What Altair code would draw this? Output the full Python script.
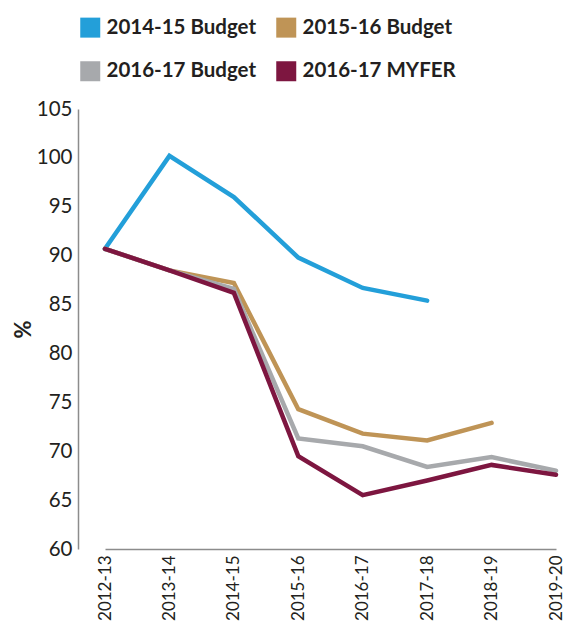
import altair as alt
import pandas as pd

years = ["2012-13", "2013-14", "2014-15", "2015-16", "2016-17", "2017-18", "2018-19", "2019-20"]
series_names = ["2014-15 Budget", "2015-16 Budget", "2016-17 Budget", "2016-17 MYFER"]
colors = ["#239FD9", "#BF9456", "#A7A9AC", "#7D1640"]
# legend fills column by column: put items in that order
legend_order = [0, 2, 1, 3]

b1415 = [90.7, 100.2, 96.0, 89.8, 86.7, 85.4, None, None]
b1516 = [90.7, 88.5, 87.2, 74.3, 71.8, 71.1, 72.9, None]
b1617 = [90.7, 88.5, 86.6, 71.3, 70.5, 68.4, 69.4, 68.0]
myfer = [90.7, 88.5, 86.2, 69.5, 65.5, 67.0, 68.6, 67.6]

rows = []
for k, (name, vals) in enumerate(zip(series_names, [b1415, b1516, b1617, myfer])):
    for y, v in zip(years, vals):
        if v is not None:
            rows.append({"year": y, "value": v, "series": name, "k": k})
df = pd.DataFrame(rows)

dom = [series_names[i] for i in legend_order]
rng = [colors[i] for i in legend_order]

font = "Lato"
ink = "#231F20"

chart = alt.Chart(df).mark_line(strokeWidth=4.5, strokeCap="round").encode(
    x=alt.X("year:O", sort=years,
            scale=alt.Scale(type="point", range=[27, 478], padding=0),
            axis=alt.Axis(title=None, labelAngle=-90, ticks=False, labelFontSize=17,
                          labelColor=ink, labelFont=font, labelPadding=6,
                          domainColor="#8C8C8C", domainWidth=1.5, labelBaseline="middle",
                          labelAlign="right")),
    y=alt.Y("value:Q", scale=alt.Scale(domain=[60, 105], nice=False, zero=False),
            axis=alt.Axis(title="%", values=list(range(60, 106, 5)), ticks=False, grid=False,
                          labelFontSize=20.5, labelFont=font, labelColor=ink, labelPadding=6,
                          domainColor="#8C8C8C", domainWidth=1.5,
                          titleFontSize=22, titleFont=font, titleFontWeight="bold",
                          titleColor=ink, titlePadding=1)),
    color=alt.Color("series:N", sort=dom,
                    scale=alt.Scale(domain=dom, range=rng),
                    legend=alt.Legend(title=None, orient="none", legendX=2, legendY=-92,
                                      columns=2, padding=0,
                                      symbolType="square", symbolSize=100,
                                      symbolStrokeWidth=10,
                                      labelFontSize=20.5, labelFont=font, labelFontWeight="bold",
                                      labelColor=ink, labelOffset=6, rowPadding=-7,
                                      columnPadding=4, labelLimit=300)),
    detail="series:N",
    order="k:Q",
).properties(
    width=480, height=440,
    padding={"left": 4, "top": 9, "right": 0, "bottom": 0},
)

chart = chart.configure_view(stroke=None)

chart.save("out.html", embed_options={"renderer": "svg", "actions": False})
